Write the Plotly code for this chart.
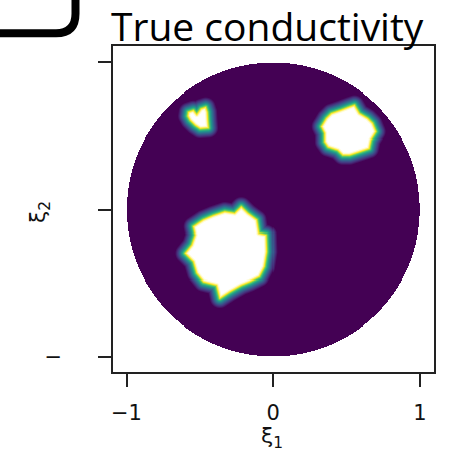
import numpy as np
import plotly.graph_objects as go

# ---- data (blob outlines, data coordinates) ----
big_x = [-0.476, -0.408, -0.329, -0.261, -0.216, -0.171, -0.110, -0.096, -0.046, -0.042,
         -0.058, -0.092, -0.159, -0.216, -0.295, -0.363, -0.385, -0.476, -0.521, -0.544,
         -0.600, -0.555, -0.532, -0.544]
big_y = [-0.071, -0.042, -0.015, -0.026, 0.019, -0.026, -0.071, -0.162, -0.173, -0.287,
         -0.389, -0.457, -0.491, -0.514, -0.559, -0.604, -0.514, -0.491, -0.434, -0.355,
         -0.298, -0.241, -0.173, -0.117]
right_x = [0.395, 0.462, 0.519, 0.553, 0.586, 0.643, 0.677, 0.700, 0.666, 0.654,
           0.586, 0.519, 0.473, 0.439, 0.372, 0.349, 0.349, 0.327, 0.361]
right_y = [0.654, 0.677, 0.699, 0.711, 0.654, 0.620, 0.586, 0.529, 0.473, 0.416,
           0.393, 0.371, 0.371, 0.405, 0.427, 0.461, 0.518, 0.563, 0.620]
small_x = [-0.578, -0.544, -0.521, -0.492, -0.460, -0.449, -0.446, -0.442, -0.498, -0.532,
           -0.566, -0.582]
small_y = [0.663, 0.675, 0.645, 0.686, 0.697, 0.663, 0.607, 0.554, 0.550, 0.573,
           0.607, 0.636]
domain_radius = 1.0
tick_vals = [-1, 0, 1]
x_tick_text = ["\u22121", "0", "1"]
y_tick_text = ["\u2212", "", ""]
title_text = "True conductivity"

# ---- grid of the conductivity image ----
grid_n = 320
xs = np.linspace(-1.092, 1.095, grid_n)
ys = np.linspace(-1.105, 1.112, grid_n)
X, Y = np.meshgrid(xs, ys)


def signed_dist(px, py):
    px = np.asarray(px, float)
    py = np.asarray(py, float)
    qx = np.roll(px, -1)
    qy = np.roll(py, -1)
    dmin = np.full(X.shape, np.inf)
    inside = np.zeros(X.shape, bool)
    for ax_, ay_, bx_, by_ in zip(px, py, qx, qy):
        dx, dy = bx_ - ax_, by_ - ay_
        t = ((X - ax_) * dx + (Y - ay_) * dy) / (dx * dx + dy * dy)
        t = np.clip(t, 0, 1)
        d = np.hypot(X - (ax_ + t * dx), Y - (ay_ + t * dy))
        dmin = np.minimum(dmin, d)
        cond = (ay_ > Y) != (by_ > Y)
        ddy = dy if dy != 0 else 1e-12
        xint = ax_ + (Y - ay_) * dx / ddy
        inside ^= cond & (X < xint)
    return np.where(inside, dmin, -dmin)


sd = np.maximum.reduce([signed_dist(big_x, big_y),
                        signed_dist(right_x, right_y),
                        signed_dist(small_x, small_y)])
val = np.clip((sd + 0.07) / 0.09, 0, 1)
val = np.round(val, 3)
z = np.where(X ** 2 + Y ** 2 <= domain_radius ** 2, val, np.nan)

cscale = [[0.0, "#440154"], [0.18, "#46327e"], [0.33, "#365c8d"], [0.45, "#277f8e"],
          [0.55, "#1fa187"], [0.65, "#4ac16d"], [0.72, "#a0da39"], [0.78, "#fde725"],
          [0.9, "#fffbc8"], [1.0, "#ffffff"]]

fig = go.Figure(go.Heatmap(x=xs, y=ys, z=z.tolist(), colorscale=cscale, zmin=0, zmax=1,
                           showscale=False, hoverinfo="skip", zsmooth=False))

L, R, T, B = 113, 36, 46, 83
W, H = 470, 455
pw, ph = W - L - R, H - T - B


def px2x(p):
    return (p - L) / pw


def py2y(p):
    return (H - B - p) / ph


axis_common = dict(showgrid=False, zeroline=False, showline=True, mirror=True,
                   linecolor="#222", linewidth=1.6, ticks="outside", ticklen=13,
                   tickwidth=1.6, tickcolor="#222",
                   tickfont=dict(family="DejaVu Sans", size=21, color="#111"))
fig.update_xaxes(range=[-1.092, 1.095], tickvals=tick_vals, ticktext=x_tick_text,
                 ticklabelstandoff=8, **axis_common)
fig.update_yaxes(range=[-1.105, 1.112], tickvals=tick_vals, ticktext=y_tick_text,
                 ticklabelstandoff=32, **axis_common)

fig.update_layout(
    width=W, height=H, margin=dict(l=L, r=R, t=T, b=B),
    paper_bgcolor="white", plot_bgcolor="white",
    annotations=[
        dict(text=title_text, x=px2x(110), y=py2y(26), xref="paper", yref="paper",
             xanchor="left", yanchor="middle", showarrow=False, borderpad=0,
             font=dict(family="Open Sans", size=39, color="black")),
        dict(text="\u03be<sub>1</sub>", x=px2x(272), y=py2y(437), xref="paper", yref="paper",
             xanchor="center", yanchor="middle", showarrow=False,
             font=dict(family="DejaVu Sans", size=22, color="#111")),
        dict(text="\u03be<sub>2</sub>", x=px2x(40), y=py2y(212), xref="paper", yref="paper",
             xanchor="center", yanchor="middle", showarrow=False, textangle=-90,
             font=dict(family="DejaVu Sans", size=22, color="#111")),
    ],
    shapes=[dict(type="path", xref="paper", yref="paper",
                 path=(f"M {px2x(-20)},{py2y(33.3)} L {px2x(56)},{py2y(33.3)} "
                       f"Q {px2x(75.5)},{py2y(33.3)} {px2x(75.5)},{py2y(13.8)} "
                       f"L {px2x(75.5)},{py2y(-20)}"),
                 line=dict(color="black", width=8))],
)

fig.write_html("out.html")
